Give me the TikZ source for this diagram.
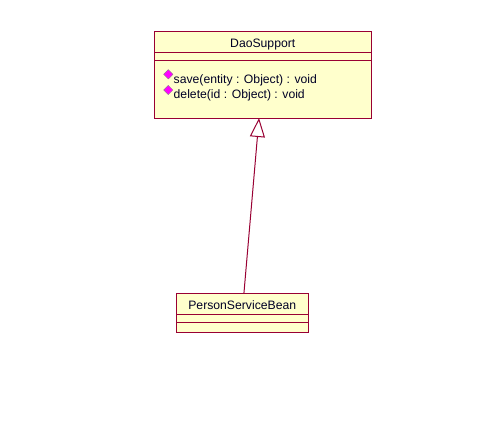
\documentclass[tikz,border=0pt]{standalone}
\usepackage{fontspec}
\setmainfont{Liberation Sans}
\usetikzlibrary{arrows.meta,shapes.geometric}
\definecolor{umlline}{HTML}{990033}
\definecolor{umlfill}{HTML}{FFFFCC}
\definecolor{umlop}{HTML}{FF00FF}
\tikzset{
  classbox/.style={draw=umlline,fill=umlfill,line width=1pt,rectangle,inner sep=0pt,outer sep=0pt},
  divider/.style={draw=umlline,line width=1pt},
  classtext/.style={font=\fontsize{12.2}{14}\selectfont,text=black!85!blue,inner sep=0pt,anchor=base},
  optext/.style={classtext,anchor=base west},
  opmark/.style={diamond,aspect=1,draw=black!50,fill=umlop,line width=0.3pt,minimum size=9.5pt,inner sep=0pt},
  generalization/.style={draw=umlline,line width=1pt,-{Triangle[open,length=19pt,width=15pt,fill=white]}}
}
\begin{document}
\begin{tikzpicture}[x=1pt,y=-1pt]
\useasboundingbox[fill=white] (0,0) rectangle (491,421);
\node[classbox,minimum width=217pt,minimum height=86.5pt] (dao) at (262.75,74.75) {};
\node[classbox,minimum width=131.5pt,minimum height=38.5pt] (bean) at (242.25,312.75) {};
\draw[generalization] (bean) -- (dao);
\draw[divider] (dao.west |- 0,52.5) coordinate (d1) -- (dao.east |- d1);
\draw[divider] (dao.west |- 0,60.5) coordinate (d2) -- (dao.east |- d2);
\draw[divider] (bean.west |- 0,314.5) coordinate (b1) -- (bean.east |- b1);
\draw[divider] (bean.west |- 0,322.5) coordinate (b2) -- (bean.east |- b2);
\node[classtext] (daotitle) at (262.75,47.5) {DaoSupport};
\node[opmark] (m1) at (168.3,74.3) {};
\node[opmark] (m2) at (168.3,90) {};
\node[optext] (op1) at (173.5,83) {save(entity : Object) : void};
\node[optext] (op2) at (173.5,98.7) {delete(id : Object) : void};
\node[classtext] (beantitle) at (242.25,309) {PersonServiceBean};
\end{tikzpicture}
\end{document}
